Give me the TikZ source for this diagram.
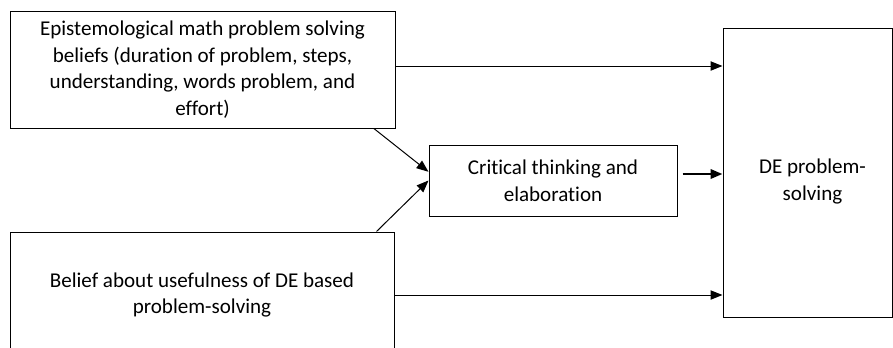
\documentclass[tikz,border=0pt]{standalone}
\usepackage{fontspec}
\setmainfont{Carlito}[Ligatures=NoCommon]
\usetikzlibrary{arrows.meta}
\newlength{\lw}
\setlength{\lw}{0.75pt}
\tikzstyle{every picture}+=[x=0.75pt,y=-0.75pt]
\tikzstyle{every picture}+=[>={Triangle[length=9pt,width=7pt]}]
\tikzstyle{every picture}+=[line width=\lw]
\tikzstyle{every picture}+=[join=miter]
\tikzstyle{txt}=[align=center,inner sep=0pt,font=\fontsize{15.8}{20}\selectfont]
\tikzstyle{box}=[draw,rectangle,txt]
\tikzstyle{link}=[->,draw]

\begin{document}
\begin{tikzpicture}
\useasboundingbox (0,0) rectangle (893,347);
\clip (0,0) rectangle (893,347);

\node[box,minimum width=385\lw,minimum height=117\lw] (epist) at (202.5,69.5)
  {Epistemological math problem solving\\beliefs (duration of problem, steps,\\understanding, words problem, and\\effort)};
\node[box,minimum width=384\lw,minimum height=126\lw] (useful) at (202,295)
  {Belief about usefulness of DE based\\problem-solving};
\node[box,minimum width=248\lw,minimum height=71\lw] (critical) at (553,180.5)
  {Critical thinking and\\elaboration};
\node[box,minimum width=169\lw,minimum height=289\lw] (deps) at (807.5,172.5) {};
\node[txt] (deps-text) at ([shift={(5,9)}]deps.center) {DE problem-\\solving};

\coordinate (epist-out) at ([shift={(0,-3.5)}]epist.east);
\draw[link] (epist-out) -- (deps.west |- epist-out);
\draw[link] (useful.east) -- (deps.west |- useful.east);
\draw[link] (epist.-19) -- (critical.176);
\draw[link] (useful.20) -- (critical.west);
\coordinate (crit-out) at ([shift={(5,-6.5)}]critical.east);
\draw[link,line width=2.5\lw] (crit-out) -- (deps.west |- crit-out);
\end{tikzpicture}
\end{document}
